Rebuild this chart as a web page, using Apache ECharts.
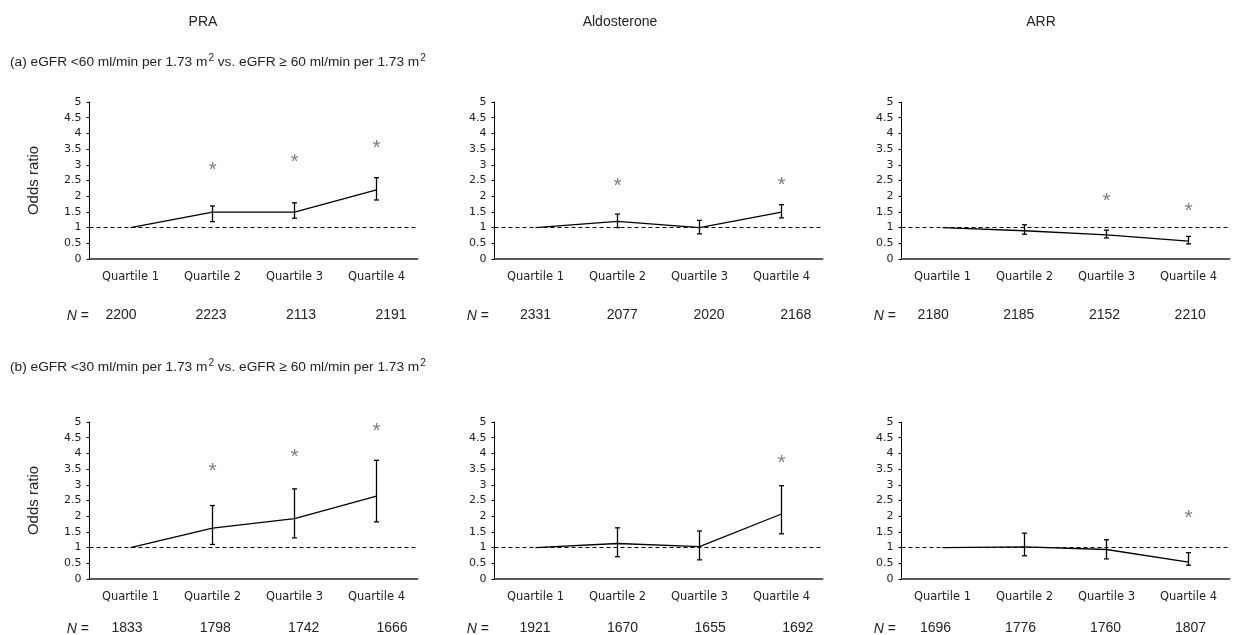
<!DOCTYPE html>
<html>
<head>
<meta charset="utf-8">
<script src="https://cdn.jsdelivr.net/npm/echarts@6/dist/echarts.min.js"></script>
<style>
html,body{margin:0;padding:0;background:#fff;}
#chart{width:1233px;height:635px;}
</style>
</head>
<body>
<div id="chart"></div>
<script>
// ---------- data ----------
const categories = ['Quartile 1', 'Quartile 2', 'Quartile 3', 'Quartile 4'];
const columnTitles = ['PRA', 'Aldosterone', 'ARR'];
const rowTitles = [
  '(a) eGFR <60 ml/min per 1.73 m{sup|2} vs. eGFR ≥ 60 ml/min per 1.73 m{sup|2}',
  '(b) eGFR <30 ml/min per 1.73 m{sup|2} vs. eGFR ≥ 60 ml/min per 1.73 m{sup|2}'
];
const yAxisTitle = 'Odds ratio';

// (a) eGFR <60
const aPRA_or   = [1.00, 1.49, 1.49, 2.20];
const aPRA_lo   = [null, 1.19, 1.30, 1.88];
const aPRA_hi   = [null, 1.69, 1.79, 2.59];
const aPRA_star = [null, 2.92, 3.17, 3.62];
const aPRA_n    = [2200, 2223, 2113, 2191];

const aALD_or   = [1.00, 1.20, 1.00, 1.49];
const aALD_lo   = [null, 1.00, 0.80, 1.31];
const aALD_hi   = [null, 1.43, 1.23, 1.73];
const aALD_star = [null, 2.41, null, 2.44];
const aALD_n    = [2331, 2077, 2020, 2168];

const aARR_or   = [1.00, 0.90, 0.77, 0.57];
const aARR_lo   = [null, 0.79, 0.67, 0.48];
const aARR_hi   = [null, 1.09, 0.92, 0.72];
const aARR_star = [null, null, 1.93, 1.61];
const aARR_n    = [2180, 2185, 2152, 2210];

// (b) eGFR <30
const bPRA_or   = [1.00, 1.62, 1.92, 2.64];
const bPRA_lo   = [null, 1.10, 1.31, 1.82];
const bPRA_hi   = [null, 2.34, 2.87, 3.78];
const bPRA_star = [null, 3.54, 3.98, 4.81];
const bPRA_n    = [1833, 1798, 1742, 1666];

const bALD_or   = [1.00, 1.13, 1.03, 2.07];
const bALD_lo   = [null, 0.71, 0.61, 1.44];
const bALD_hi   = [null, 1.63, 1.53, 2.97];
const bALD_star = [null, null, null, 3.78];
const bALD_n    = [1921, 1670, 1655, 1692];

const bARR_or   = [1.00, 1.02, 0.94, 0.54];
const bARR_lo   = [null, 0.74, 0.64, 0.44];
const bARR_hi   = [null, 1.46, 1.25, 0.84];
const bARR_star = [null, null, null, 2.02];
const bARR_n    = [1696, 1776, 1760, 1807];

const panelsData = [
  {or: aPRA_or, lo: aPRA_lo, hi: aPRA_hi, star: aPRA_star, n: aPRA_n},
  {or: aALD_or, lo: aALD_lo, hi: aALD_hi, star: aALD_star, n: aALD_n},
  {or: aARR_or, lo: aARR_lo, hi: aARR_hi, star: aARR_star, n: aARR_n},
  {or: bPRA_or, lo: bPRA_lo, hi: bPRA_hi, star: bPRA_star, n: bPRA_n},
  {or: bALD_or, lo: bALD_lo, hi: bALD_hi, star: bALD_star, n: bALD_n},
  {or: bARR_or, lo: bARR_lo, hi: bARR_hi, star: bARR_star, n: bARR_n}
];

// ---------- layout ----------
const plotLefts = [89.5, 494.5, 901.5];
const plotWidth = 328;
const plotTops = [102, 422];
const plotHeight = 157;
const nCenters = [
  [121, 391], [535.5, 795.7], [935, 1203],
  [127, 392], [535, 797.7], [937, 1201]
];
const nRowY = [316, 629];
const nLabelRight = [89, 489, 896];
const colTitleX = [203, 620, 1041];

const FONT = 'Liberation Sans, Arial, sans-serif';
const TICKFONT = 'DejaVu Sans, sans-serif';

const grids = [], xAxes = [], yAxes = [], series = [], graphics = [];

panelsData.forEach((p, i) => {
  const row = Math.floor(i / 3), col = i % 3;
  grids.push({left: plotLefts[col], top: plotTops[row], width: plotWidth, height: plotHeight, containLabel: false});
  xAxes.push({
    type: 'category', gridIndex: i, data: categories, boundaryGap: true,
    axisLine: {show: true, lineStyle: {color: '#5a5a5a', width: 2}},
    axisTick: {show: false},
    axisLabel: {interval: 0, margin: 12, fontSize: 11.5, color: '#222', fontFamily: TICKFONT}
  });
  yAxes.push({
    type: 'value', gridIndex: i, min: 0, max: 5, interval: 0.5,
    name: col === 0 ? yAxisTitle : '',
    nameLocation: 'middle', nameRotate: 90, nameGap: 48,
    nameTextStyle: {fontSize: 15, color: '#222', fontFamily: FONT},
    axisLine: {show: true, lineStyle: {color: '#000', width: 1}},
    axisTick: {show: true, length: 3, lineStyle: {color: '#000', width: 1}},
    splitLine: {show: false},
    axisLabel: {margin: 8, fontSize: 11, color: '#222', fontFamily: TICKFONT}
  });

  series.push({
    type: 'line', xAxisIndex: i, yAxisIndex: i, data: p.or,
    symbol: 'none', lineStyle: {color: '#000', width: 1.3}, z: 3, silent: true,
    markLine: {
      silent: true, symbol: ['none', 'none'], label: {show: false},
      lineStyle: {type: [4, 3], color: '#000', width: 1},
      data: [{yAxis: 1}]
    }
  });

  const ebData = [];
  p.lo.forEach((lo, k) => { if (lo != null) ebData.push([k, lo, p.hi[k]]); });
  series.push({
    type: 'custom', xAxisIndex: i, yAxisIndex: i, data: ebData, z: 4, silent: true,
    renderItem: function (params, api) {
      const x = api.value(0), lo = api.value(1), hi = api.value(2);
      const a = api.coord([x, lo]), b = api.coord([x, hi]);
      const w = 2.5, st = {stroke: '#000', lineWidth: 1.3};
      return {type: 'group', children: [
        {type: 'line', shape: {x1: a[0], y1: a[1], x2: b[0], y2: b[1]}, style: st},
        {type: 'line', shape: {x1: a[0] - w, y1: a[1], x2: a[0] + w, y2: a[1]}, style: st},
        {type: 'line', shape: {x1: b[0] - w, y1: b[1], x2: b[0] + w, y2: b[1]}, style: st}
      ]};
    }
  });

  const stData = [];
  p.star.forEach((v, k) => { if (v != null) stData.push([k, v]); });
  series.push({
    type: 'scatter', xAxisIndex: i, yAxisIndex: i, data: stData, symbolSize: 1, silent: true,
    itemStyle: {color: 'rgba(0,0,0,0)'},
    label: {show: true, position: 'inside', formatter: '*', fontSize: 21, color: '#5e5e5e',
            fontFamily: FONT, offset: [0, 3]}
  });
});

panelsData.forEach((p, i) => {
  const row = Math.floor(i / 3), col = i % 3;
  const [c1, c4] = nCenters[i];
  const s = (c4 - c1) / 3;
  const gi = grids.length;
  grids.push({left: c1 - s / 2, width: 4 * s, top: nRowY[row] - 16, height: 1});
  xAxes.push({
    type: 'category', gridIndex: gi, data: p.n.map(String), boundaryGap: true,
    axisLine: {show: false}, axisTick: {show: false},
    axisLabel: {interval: 0, margin: 7, fontSize: 14, color: '#222', fontFamily: FONT}
  });
  yAxes.push({type: 'value', gridIndex: gi, show: false});
  graphics.push({
    type: 'text', x: nLabelRight[col], y: nRowY[row],
    style: {
      text: '{i|N} =', align: 'right', verticalAlign: 'middle',
      fontSize: 14, fill: '#222', fontFamily: FONT,
      rich: {i: {fontStyle: 'italic', fontSize: 14, fontFamily: FONT, fill: '#222'}}
    }
  });
});

columnTitles.forEach((t, c) => {
  graphics.push({type: 'text', x: colTitleX[c], y: 22,
    style: {text: t, align: 'center', verticalAlign: 'middle', fontSize: 14, fill: '#222', fontFamily: FONT}});
});
const rowTitleY = [62, 367];
rowTitles.forEach((t, r) => {
  graphics.push({type: 'text', x: 10, y: rowTitleY[r],
    style: {text: t, align: 'left', verticalAlign: 'middle', fontSize: 13.7, fill: '#222',
            fontFamily: FONT, lineHeight: 18,
            rich: {sup: {fontSize: 10, fill: '#222', fontFamily: FONT, verticalAlign: 'top', lineHeight: 18, padding: [0, 0, 0, 1]}}}});
});

const chart = echarts.init(document.getElementById('chart'), null, {renderer: 'canvas'});
chart.setOption({
  animation: false,
  backgroundColor: '#fff',
  grid: grids, xAxis: xAxes, yAxis: yAxes, series: series,
  graphic: graphics
});
</script>
</body>
</html>
